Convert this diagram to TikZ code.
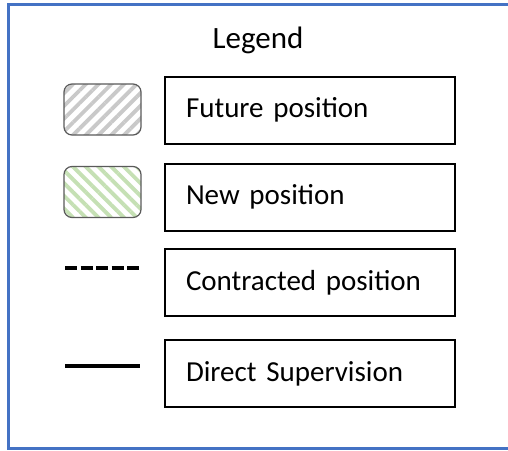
\documentclass[tikz,border=0pt]{standalone}
\usepackage{fontspec}
\setmainfont{Carlito}
\usetikzlibrary{patterns.meta}
\definecolor{frameblue}{HTML}{4472C4}
\definecolor{hatchgray}{HTML}{C9C9C9}
\definecolor{hatchgreen}{HTML}{C5E0B4}
\definecolor{swatchedge}{HTML}{5A5A5A}
\tikzset{
  labelbox/.style={draw=black, line width=2pt, minimum height=67pt,
    text width=248pt, inner xsep=21pt, align=left,
    font=\fontsize{29}{34}\selectfont, anchor=west},
  swatch/.style={draw=swatchedge, line width=1.2pt, rounded corners=8pt,
    minimum width=77pt, minimum height=51pt, inner sep=0pt},
  sampleline/.style={line width=3.8pt, line cap=butt}
}
\begin{document}
\begin{tikzpicture}[x=1pt, y=-1pt]
  \useasboundingbox (0,0) rectangle (508,450);
  \fill[white] (0,0) rectangle (508,450);
  % outer frame: top, left and bottom sides; the right side lies off the page
  \coordinate (frameTR) at (508,4.5);
  \coordinate (frameTL) at (8.5,4.5);
  \coordinate (frameBL) at (8.5,448.5);
  \coordinate (frameBR) at (508,448.5);
  \draw[frameblue, line width=2.6pt, line cap=butt, line join=miter]
    (frameTR) -- (frameTL) -- (frameBL) -- (frameBR);

  \node[font=\fontsize{31}{36}\selectfont] (title) at (258,40) {Legend};

  % swatches
  \node[swatch, pattern={Lines[angle=45, distance=9pt, line width=3.8pt]},
        pattern color=hatchgray] (future) at (102.5,109.5) {};
  \node[swatch, pattern={Lines[angle=-45, distance=9pt, line width=3.8pt]},
        pattern color=hatchgreen] (new) at (102.5,192) {};

  % line samples
  \coordinate (dashA) at (65,268);
  \coordinate (dashB) at (140,268);
  \draw[sampleline, dash pattern=on 12pt off 3.5pt] (dashA) -- (dashB);
  \coordinate (solidA) at (65,366);
  \coordinate (solidB) at (140,366);
  \draw[sampleline] (solidA) -- (solidB);

  % description boxes
  \node[labelbox] (futurebox) at (164,110) {Future position};
  \node[labelbox] (newbox) at (164,197) {New position};
  \node[labelbox] (contractbox) at (164,282.5) {Contracted position};
  \node[labelbox] (directbox) at (164,373.5) {Direct Supervision};
\end{tikzpicture}
\end{document}
